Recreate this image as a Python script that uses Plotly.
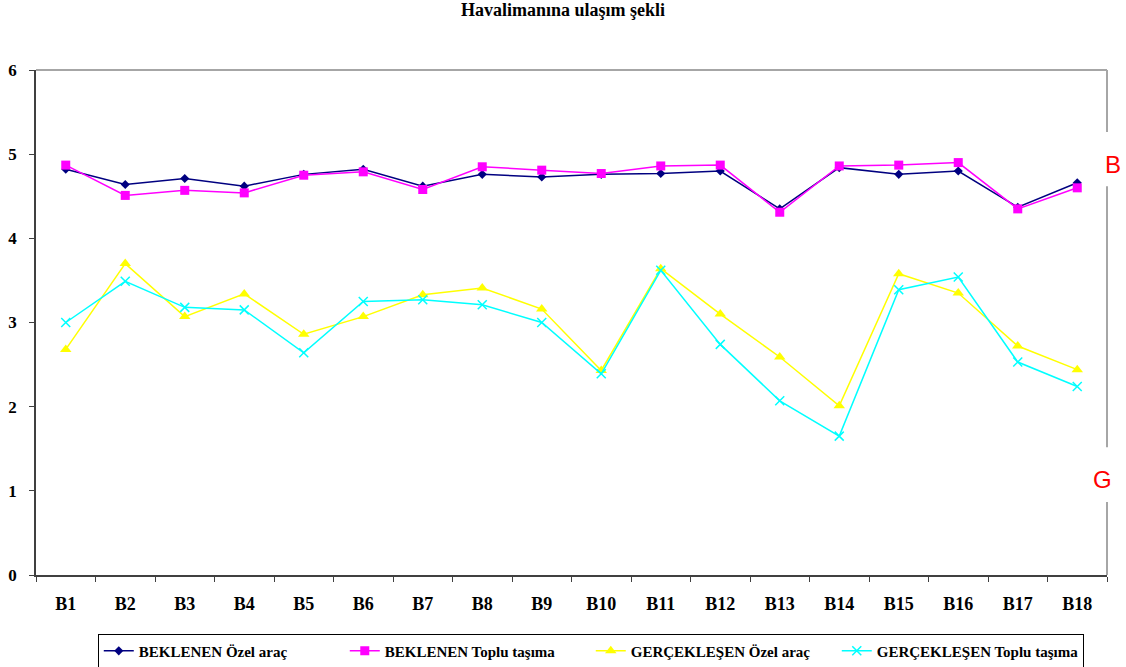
import plotly.graph_objects as go

# Survey categories and mean scores for the four series
categories = ["B1", "B2", "B3", "B4", "B5", "B6", "B7", "B8", "B9",
              "B10", "B11", "B12", "B13", "B14", "B15", "B16", "B17", "B18"]

beklenen_ozel = [4.82, 4.64, 4.71, 4.62, 4.76, 4.82, 4.62, 4.76, 4.73,
                 4.76, 4.77, 4.80, 4.35, 4.84, 4.76, 4.80, 4.37, 4.66]
beklenen_toplu = [4.87, 4.51, 4.57, 4.54, 4.75, 4.79, 4.58, 4.85, 4.81,
                  4.77, 4.86, 4.87, 4.31, 4.86, 4.87, 4.90, 4.35, 4.60]
gerceklesen_ozel = [2.68, 3.70, 3.07, 3.34, 2.86, 3.07, 3.33, 3.41, 3.16,
                    2.43, 3.64, 3.10, 2.59, 2.01, 3.58, 3.35, 2.72, 2.44]
gerceklesen_toplu = [3.00, 3.49, 3.18, 3.15, 2.64, 3.25, 3.27, 3.21, 3.00,
                     2.39, 3.62, 2.74, 2.07, 1.65, 3.39, 3.54, 2.53, 2.24]

series_names = ["BEKLENEN Özel araç", "BEKLENEN Toplu taşıma",
                "GERÇEKLEŞEN Özel araç", "GERÇEKLEŞEN Toplu taşıma"]

serif = "Liberation Serif, Times New Roman, serif"

fig = go.Figure()

fig.add_trace(go.Scatter(
    x=categories, y=beklenen_ozel, name=series_names[0], mode="lines+markers",
    line=dict(color="#000080", width=1.5),
    marker=dict(symbol="diamond", size=7, color="#000080")))
fig.add_trace(go.Scatter(
    x=categories, y=beklenen_toplu, name=series_names[1], mode="lines+markers",
    line=dict(color="#FF00FF", width=1.5),
    marker=dict(symbol="square", size=9, color="#FF00FF")))
fig.add_trace(go.Scatter(
    x=categories, y=gerceklesen_ozel, name=series_names[2], mode="lines+markers",
    line=dict(color="#FFFF00", width=1.5),
    marker=dict(symbol="triangle-up", size=10, color="#FFFF00")))
fig.add_trace(go.Scatter(
    x=categories, y=gerceklesen_toplu, name=series_names[3], mode="lines+markers",
    line=dict(color="#00FFFF", width=1.5),
    marker=dict(symbol="x-thin", size=9, color="#00FFFF",
                line=dict(color="#00FFFF", width=1.5))))

axis_color = "#404040"
frame_color = "#A6A6A6"

fig.update_layout(
    width=1126, height=667,
    margin=dict(l=36, r=19, t=70, b=92, autoexpand=False),
    paper_bgcolor="white", plot_bgcolor="white",
    title=dict(text="<b>Havalimanına ulaşım şekli</b>",
               font=dict(family=serif, size=18, color="black"),
               x=0.5, xanchor="center", y=0.985, yanchor="middle"),
    xaxis=dict(
        type="category", range=[-0.5, 17.5], showgrid=False,
        showline=True, linecolor=axis_color, linewidth=1.5,
        ticks="outside", ticklen=5, tickcolor=axis_color, tickwidth=1,
        tickson="boundaries", ticklabelstandoff=12,
        tickfont=dict(family=serif, size=18, color="black", weight="bold")),
    yaxis=dict(
        range=[0, 6], dtick=1, showgrid=False, zeroline=False,
        showline=True, linecolor=axis_color, linewidth=1.5,
        ticks="outside", ticklen=5, tickcolor=axis_color, tickwidth=1,
        ticklabelstandoff=9,
        tickfont=dict(family=serif, size=17, color="black", weight="bold")),
    legend=dict(
        orientation="h", x=0.518, xanchor="center", y=-0.116, yanchor="top",
        bordercolor="black", borderwidth=1,
        font=dict(family=serif, size=15, color="black", weight="bold"),
        entrywidth=201, itemwidth=30, tracegroupgap=0),
    showlegend=True,
)

# Grey frame on top and right, with openings for the side letters
frame_segments = [
    dict(x0=0, x1=1, y0=1, y1=1),
    dict(x0=1, x1=1, y0=1, y1=0.877),
    dict(x0=1, x1=1, y0=0.770, y1=0.253),
    dict(x0=1, x1=1, y0=0.1446, y1=0),
]
for seg in frame_segments:
    fig.add_shape(type="line", xref="paper", yref="paper",
                  line=dict(color=frame_color, width=2), **seg)

# Side letters marking the expected (B) and realised (G) groups
fig.add_annotation(text="B", xref="paper", yref="paper", x=1.0055, y=0.813,
                   xanchor="center", yanchor="middle", showarrow=False,
                   font=dict(family="Liberation Sans, Arial, sans-serif",
                             size=24, color="#FF0000"))
fig.add_annotation(text="G", xref="paper", yref="paper", x=0.996, y=0.190,
                   xanchor="center", yanchor="middle", showarrow=False,
                   font=dict(family="Liberation Sans, Arial, sans-serif",
                             size=24, color="#FF0000"))

fig.write_html("out.html")
